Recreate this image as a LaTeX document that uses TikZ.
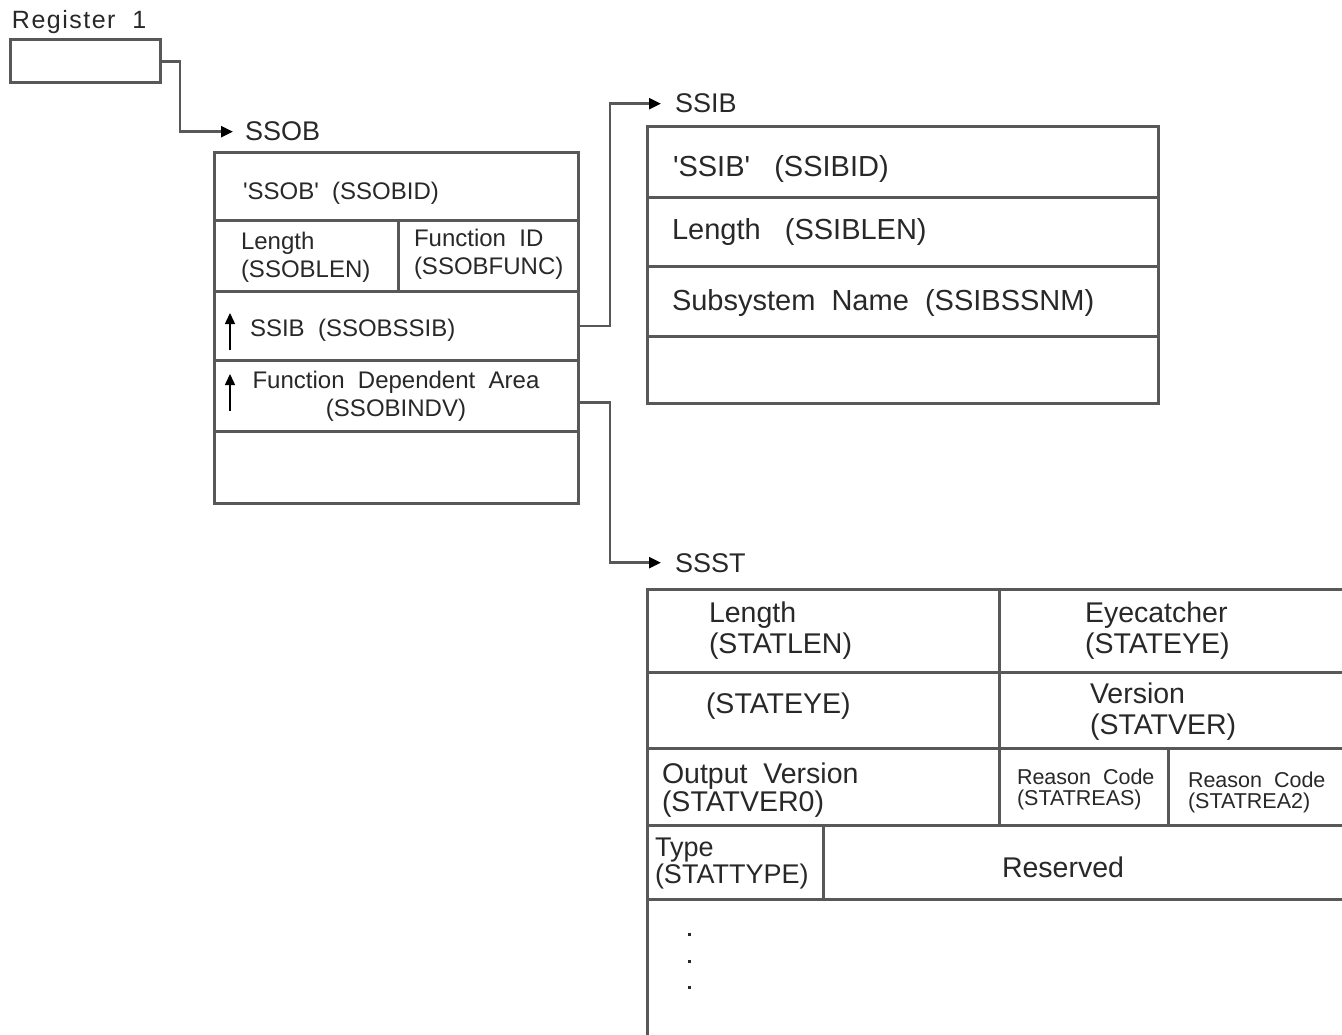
\documentclass[tikz,border=0pt]{standalone}
\usepackage{fontspec}
\setmainfont{Liberation Sans}
\usetikzlibrary{arrows.meta}
\definecolor{lc}{RGB}{88,88,88}
\definecolor{tc}{RGB}{40,40,40}
\newcommand{\qq}{\textquotesingle}
\begin{document}
\begin{tikzpicture}[x=1pt,y=-1pt,
  cell/.style={draw=lc, line width=3pt, rectangle, inner sep=0pt, outer sep=0pt, anchor=north west},
  lbl/.style={inner sep=0pt, outer sep=0pt, text=tc, anchor=base west},
  mlbl/.style={inner sep=0pt, outer sep=0pt, text=tc, anchor=west, align=left},
  fsob/.style={font=\fontsize{24}{28}\selectfont},
  fsib/.style={font=\fontsize{29}{32}\selectfont},
  fsst/.style={font=\fontsize{28.5}{31}\selectfont},
  fsml/.style={font=\fontsize{21.5}{21}\selectfont},
  conn/.style={draw=lc, line width=2.5pt, -{Triangle[length=12pt,width=11pt,color=black]}},
  uparr/.style={draw=black, line width=1.5pt, -{Triangle[length=11pt,width=10pt]}},
  dotm/.style={fill=tc, draw=none, minimum size=3pt, inner sep=0pt, rectangle}
]
\clip (0,0) rectangle (1342,1035);
\fill[white] (0,0) rectangle (1342,1035);

% Register 1
\node[lbl, font=\fontsize{25}{28}\selectfont\addfontfeature{LetterSpace=6}] (reglbl) at (12,29) {Register~~1};
\node[cell, minimum width=150pt, minimum height=43pt] (reg) at (10,40) {};

% SSOB
\node[lbl, font=\fontsize{27}{28}\selectfont] (ssoblbl) at (245,141) {SSOB};
\node[cell, minimum width=364pt, minimum height=68pt] (ssob1) at (214,153) {};
\node[cell, minimum width=184pt, minimum height=71pt] (ssob2a) at (214,221) {};
\node[cell, minimum width=180pt, minimum height=71pt] (ssob2b) at (398,221) {};
\node[cell, minimum width=364pt, minimum height=68pt] (ssob3) at (214,292) {};
\node[cell, minimum width=364pt, minimum height=71pt] (ssob4) at (214,360) {};
\node[cell, minimum width=364pt, minimum height=72pt] (ssob5) at (214,431) {};

\node[lbl, fsob] (t1) at (243,200) {\qq SSOB\qq~~(SSOBID)};
\node[mlbl, fsob] (t2) at (241,257) {Length\\(SSOBLEN)};
\node[mlbl, fsob] (t3) at (414,254) {Function~~ID\\(SSOBFUNC)};
\node[lbl, fsob] (t4) at (250,336) {SSIB~~(SSOBSSIB)};
\node[inner sep=0pt, text=tc, align=center, fsob] (t5) at (396,396) {Function~~Dependent~~Area\\(SSOBINDV)};
\coordinate (u1a) at (230,350);
\coordinate (u1b) at (230,313);
\coordinate (u2a) at (230,411);
\coordinate (u2b) at (230,374);
\draw[uparr] (u1a) -- (u1b);
\draw[uparr] (u2a) -- (u2b);

% SSIB
\node[lbl, font=\fontsize{27}{28}\selectfont] (ssiblbl) at (675,113) {SSIB};
\node[cell, minimum width=511pt, minimum height=71pt] (ssib1) at (647,127) {};
\node[cell, minimum width=511pt, minimum height=69pt] (ssib2) at (647,198) {};
\node[cell, minimum width=511pt, minimum height=69pt] (ssib3) at (647,267) {};
\node[cell, minimum width=511pt, minimum height=67pt] (ssib4) at (647,336) {};
\node[lbl, fsib] (s1) at (673,177) {\qq SSIB\qq~~~(SSIBID)};
\node[lbl, fsib] (s2) at (672,240) {Length~~~(SSIBLEN)};
\node[lbl, fsib] (s3) at (672,310) {Subsystem~~Name~~(SSIBSSNM)};

% SSST
\node[lbl, font=\fontsize{27}{28}\selectfont] (ssstlbl) at (675,572) {SSST};
\node[cell, minimum width=352pt, minimum height=83pt] (st1a) at (647,589) {};
\node[cell, minimum width=450pt, minimum height=83pt] (st1b) at (999,589) {};
\node[cell, minimum width=352pt, minimum height=76pt] (st2a) at (647,672) {};
\node[cell, minimum width=450pt, minimum height=76pt] (st2b) at (999,672) {};
\node[cell, minimum width=352pt, minimum height=77pt] (st3a) at (647,748) {};
\node[cell, minimum width=169pt, minimum height=77pt] (st3b) at (999,748) {};
\node[cell, minimum width=300pt, minimum height=77pt] (st3c) at (1168,748) {};
\node[cell, minimum width=176pt, minimum height=74pt] (st4a) at (647,825) {};
\node[cell, minimum width=650pt, minimum height=74pt] (st4b) at (823,825) {};
\node[cell, minimum width=800pt, minimum height=250pt] (st5) at (647,899) {};

\node[mlbl, fsst] (a1) at (709,631) {Length\\(STATLEN)};
\node[mlbl, fsst] (a2) at (1085,631) {Eyecatcher\\(STATEYE)};
\node[lbl, fsst] (a3) at (706,713) {(STATEYE)};
\node[mlbl, fsst] (a4) at (1090,712) {Version\\(STATVER)};
\node[mlbl, font=\fontsize{28.5}{28}\selectfont] (a5) at (662,790) {Output~~Version\\(STATVER0)};
\node[mlbl, fsml] (a6) at (1017,789) {Reason~~Code\\(STATREAS)};
\node[mlbl, fsml] (a7) at (1188,792) {Reason~~Code\\(STATREA2)};
\node[mlbl, font=\fontsize{27}{27}\selectfont] (a8) at (655,864) {Type\\(STATTYPE)};
\node[lbl, fsst] (a9) at (1002,877) {Reserved};
\node[dotm] (d1) at (689,934) {};
\node[dotm] (d2) at (689,961) {};
\node[dotm] (d3) at (689,987) {};

% connectors
\draw[conn, shorten >=12pt] (reg.east) -- ++(20,0) |- (ssoblbl.west);
\draw[conn, shorten >=14pt] (ssob3.east) -- ++(32,0) |- (ssiblbl.west);
\draw[conn, shorten >=14pt] ([yshift=-7pt]ssob4.east) -- ++(32,0) |- (ssstlbl.west);
\end{tikzpicture}
\end{document}
